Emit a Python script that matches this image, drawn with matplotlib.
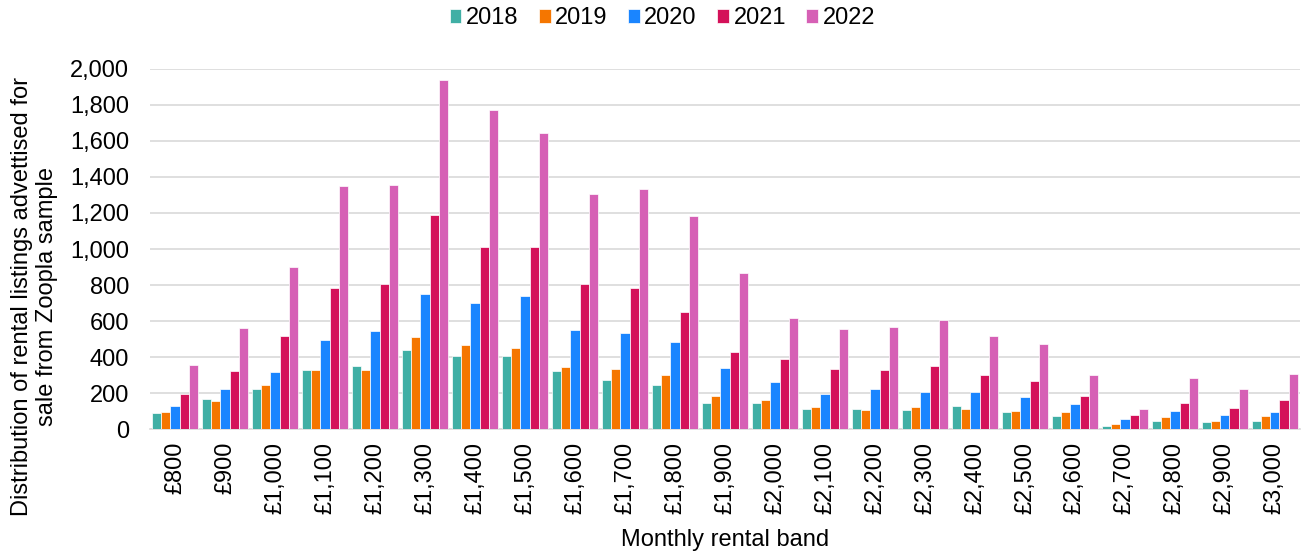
import matplotlib
matplotlib.use("Agg")
import matplotlib.pyplot as plt
import numpy as np

plt.rcParams['font.family'] = ['Liberation Sans', 'DejaVu Sans']

bands = ["£800", "£900", "£1,000", "£1,100", "£1,200", "£1,300", "£1,400", "£1,500",
         "£1,600", "£1,700", "£1,800", "£1,900", "£2,000", "£2,100", "£2,200", "£2,300",
         "£2,400", "£2,500", "£2,600", "£2,700", "£2,800", "£2,900", "£3,000"]
years = ["2018", "2019", "2020", "2021", "2022"]

v2018 = [87, 169, 224, 328, 352, 441, 407, 407, 324, 272, 246, 146, 146, 113, 111, 107, 128, 96, 70, 17, 44, 41, 43]
v2019 = [96, 157, 243, 330, 330, 511, 469, 450, 344, 335, 300, 181, 161, 120, 106, 120, 111, 102, 96, 30, 67, 46, 70]
v2020 = [128, 224, 315, 494, 546, 748, 702, 739, 552, 533, 483, 341, 263, 193, 224, 204, 207, 180, 139, 54, 102, 76, 96]
v2021 = [193, 322, 517, 783, 807, 1187, 1009, 1011, 807, 781, 650, 430, 391, 333, 328, 352, 302, 267, 185, 76, 144, 117, 161]
v2022 = [357, 561, 900, 1352, 1357, 1941, 1774, 1646, 1306, 1333, 1183, 867, 617, 557, 569, 604, 517, 470, 302, 113, 283, 224, 307]

series = [v2018, v2019, v2020, v2021, v2022]
colors = ["#40AFA5", "#F57600", "#1A85FF", "#D41159", "#D660B5"]

FS = 17

fig = plt.figure(figsize=(13.09, 5.55), dpi=100)
ax = fig.add_axes([0.1146, 0.227, 0.8784, 0.6487])

x = np.arange(len(bands))
w = 0.186
for i, (vals, c, y) in enumerate(zip(series, colors, years)):
    ax.bar(x + (i - 2) * w, vals, width=w, color=c, edgecolor="white",
           linewidth=0.5, label=y, zorder=3)

ax.set_xlim(-0.5, len(bands) - 0.5)
ax.set_ylim(0, 2000)
ax.set_yticks(np.arange(0, 2001, 200))
ax.set_yticklabels([f"{v:,}" for v in range(0, 2001, 200)], fontsize=FS)
ax.set_xticks(x)
ax.set_xticklabels(bands, rotation=90, fontsize=FS, va="top")
ax.tick_params(axis="y", length=0, pad=15)
ax.tick_params(axis="x", length=0, pad=9)
ax.grid(axis="y", color="#D9D9D9", linewidth=1.2, zorder=0)
for s in ["top", "right", "left"]:
    ax.spines[s].set_visible(False)
ax.spines["bottom"].set_color("#D9D9D9")
ax.spines["bottom"].set_linewidth(1.2)

ax.set_xlabel("Monthly rental band", fontsize=FS)
ax.xaxis.set_label_coords(0.5, -0.278)
ax.set_ylabel("Distribution of rental listings advettised for\nsale from Zoopla sample",
              fontsize=FS)
ax.yaxis.set_label_coords(-0.080, 0.369)

fig.legend(loc="center", bbox_to_anchor=(0.506, 0.967), ncol=5, frameon=False,
           fontsize=FS, handlelength=0.5, handleheight=0.5, handletextpad=0.2,
           columnspacing=0.85)

fig.savefig("out.png", dpi=100)
